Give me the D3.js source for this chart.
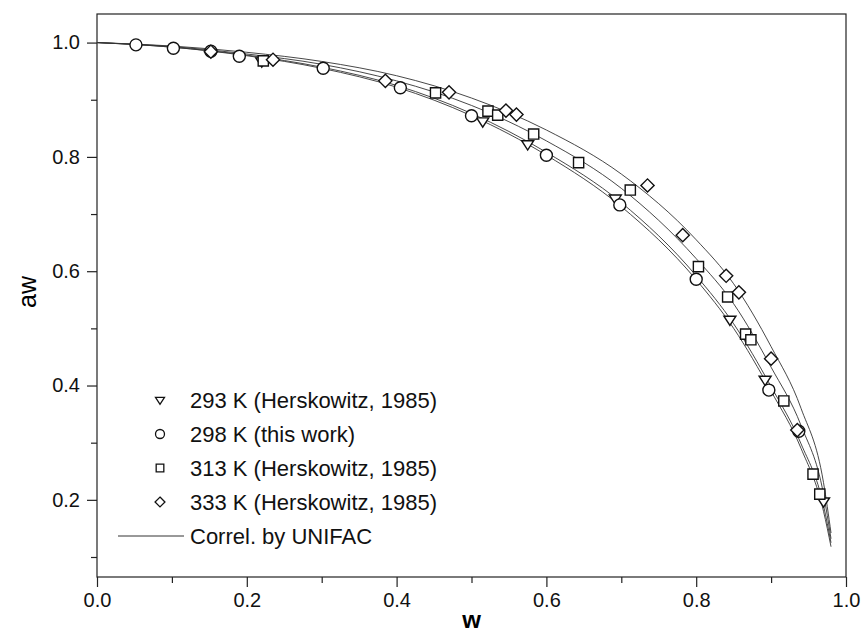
<!DOCTYPE html>
<html>
<head>
<style>
  body { margin: 0px; background-color: white; }
  svg { display: block; font-family: Arial, "Liberation Sans", sans-serif; }
</style>
<script src="https://cdn.jsdelivr.net/npm/d3@7"></script>
</head>
<body>
<svg></svg>
<script>
// measured points, [w, aw]
const k293 = [[0.22, 0.967], [0.515, 0.862], [0.575, 0.822], [0.692, 0.727], [0.845, 0.515], [0.892, 0.41], [0.97, 0.197]];
const k298 = [[0.052, 0.996], [0.102, 0.99], [0.152, 0.985], [0.19, 0.976], [0.302, 0.955], [0.405, 0.921], [0.5, 0.872], [0.6, 0.803], [0.698, 0.716], [0.8, 0.586], [0.897, 0.392], [0.937, 0.32]];
const k313 = [[0.222, 0.968], [0.452, 0.912], [0.522, 0.88], [0.535, 0.873], [0.583, 0.84], [0.643, 0.79], [0.712, 0.742], [0.803, 0.608], [0.842, 0.555], [0.866, 0.49], [0.873, 0.48], [0.917, 0.373], [0.956, 0.245], [0.965, 0.21]];
const k333 = [[0.152, 0.984], [0.235, 0.97], [0.385, 0.933], [0.47, 0.913], [0.546, 0.881], [0.56, 0.874], [0.735, 0.75], [0.782, 0.663], [0.84, 0.592], [0.857, 0.563], [0.9, 0.447], [0.935, 0.322]];

// UNIFAC correlation curves
const curveW = [0, 0.1, 0.2, 0.3, 0.4, 0.5, 0.6, 0.7, 0.8, 0.85, 0.9, 0.94, 0.97, 0.98];
const fit293 = [1.0, 0.992, 0.978, 0.957, 0.925, 0.876, 0.808, 0.72, 0.592, 0.508, 0.398, 0.298, 0.19, 0.125];
const fit298 = [1.0, 0.992, 0.977, 0.955, 0.922, 0.872, 0.803, 0.713, 0.585, 0.5, 0.39, 0.29, 0.18, 0.118];
const fit313 = [1.0, 0.993, 0.98, 0.962, 0.933, 0.89, 0.828, 0.745, 0.622, 0.543, 0.432, 0.33, 0.21, 0.132];
const fit333 = [1.0, 0.994, 0.983, 0.967, 0.942, 0.903, 0.847, 0.77, 0.655, 0.578, 0.468, 0.36, 0.23, 0.142];

const legendLabels = ["293 K (Herskowitz, 1985)", "298 K (this work)", "313 K (Herskowitz, 1985)", "333 K (Herskowitz, 1985)", "Correl. by UNIFAC"];
const xTicks = [0, 0.2, 0.4, 0.6, 0.8, 1.0];
const yTicks = [0.2, 0.4, 0.6, 0.8, 1.0];

const width = 863, height = 637;
const svg = d3.select("svg").attr("width", width).attr("height", height);

const x = d3.scaleLinear().domain([0, 1]).range([97, 846]);
const y = d3.scaleLinear().domain([0.065, 1.05]).range([577, 14]);

// frame
svg.append("rect")
  .attr("x", x(0)).attr("y", y(1.05))
  .attr("width", x(1) - x(0)).attr("height", y(0.065) - y(1.05))
  .attr("fill", "none").attr("stroke", "#222").attr("stroke-width", 1.2);

svg.append("g").attr("transform", "translate(0," + y(0.065) + ")")
  .call(d3.axisBottom(x).tickValues(xTicks).tickFormat(d3.format(".1f")).tickSize(10).tickPadding(6));
svg.append("g").attr("transform", "translate(0," + y(0.065) + ")")
  .call(d3.axisBottom(x).tickValues([0.1, 0.3, 0.5, 0.7, 0.9]).tickFormat("").tickSize(6));
svg.append("g").attr("transform", "translate(" + x(0) + ",0)")
  .call(d3.axisLeft(y).tickValues(yTicks).tickFormat(d3.format(".1f")).tickSize(10).tickPadding(7));
svg.append("g").attr("transform", "translate(" + x(0) + ",0)")
  .call(d3.axisLeft(y).tickValues([0.1, 0.3, 0.5, 0.7, 0.9]).tickFormat("").tickSize(6));

svg.selectAll(".domain").remove();
svg.selectAll(".tick line").attr("stroke", "#222").attr("stroke-width", 1.2);
svg.selectAll(".tick text").attr("font-size", 20).attr("fill", "#111")
  .attr("font-family", "Arial, 'Liberation Sans', sans-serif");

svg.append("text").attr("x", (x(0) + x(1)) / 2).attr("y", 628)
  .attr("text-anchor", "middle").attr("font-size", 24).attr("font-weight", "bold").text("w");
svg.append("text").attr("transform", "translate(36,292) rotate(-90)")
  .attr("text-anchor", "middle").attr("font-size", 25).text("aw");

// correlation curves
const line = d3.line()
  .x(function(d) { return x(d[0]); })
  .y(function(d) { return y(d[1]); })
  .curve(d3.curveMonotoneX);

[fit293, fit298, fit313, fit333].forEach(function(fit) {
  svg.append("path")
    .datum(curveW.map(function(w, i) { return [w, fit[i]]; }))
    .attr("d", line)
    .attr("fill", "none").attr("stroke", "#333").attr("stroke-width", 0.9);
});

// symbols
const triDown = function(r) { return "M" + (-r) + "," + (-r * 0.6) + "L" + r + "," + (-r * 0.6) + "L0," + (r * 0.95) + "Z"; };
const circle = function(r) { return "M" + r + ",0A" + r + "," + r + " 0 1,1 " + (-r) + ",0A" + r + "," + r + " 0 1,1 " + r + ",0Z"; };
const square = function(r) { r = r * 0.85; return "M" + (-r) + "," + (-r) + "H" + r + "V" + r + "H" + (-r) + "Z"; };
const diamond = function(r) { r = r * 1.1; return "M0," + (-r) + "L" + r + ",0L0," + r + "L" + (-r) + ",0Z"; };

const series = [
  {data: k293, shape: triDown},
  {data: k298, shape: circle},
  {data: k313, shape: square},
  {data: k333, shape: diamond}
];

series.forEach(function(s) {
  svg.append("g").selectAll("path")
    .data(s.data)
    .join("path")
    .attr("transform", function(d) { return "translate(" + x(d[0]) + "," + y(d[1]) + ")"; })
    .attr("d", s.shape(6))
    .attr("fill", "white").attr("stroke", "#111").attr("stroke-width", 1.4);
});

// legend
const legend = svg.append("g").attr("transform", "translate(0,400)");
legendLabels.forEach(function(label, i) {
  const row = legend.append("g").attr("transform", "translate(0," + (i * 34) + ")");
  if (i < 4) {
    row.append("path").attr("transform", "translate(160,0)")
      .attr("d", series[i].shape(4.5))
      .attr("fill", "white").attr("stroke", "#111").attr("stroke-width", 1.3);
  } else {
    row.append("line").attr("x1", 118).attr("x2", 184).attr("y1", 0).attr("y2", 0)
      .attr("stroke", "#333").attr("stroke-width", 1);
  }
  row.append("text").attr("x", 190).attr("y", 0).attr("dy", "0.35em")
    .attr("font-size", 22).attr("fill", "#111").text(label);
});
</script>
</body>
</html>
